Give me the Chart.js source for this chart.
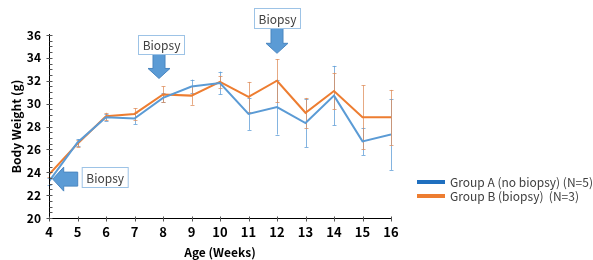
<!DOCTYPE html>
<html>
<head>
<meta charset="utf-8">
<script src="https://cdn.jsdelivr.net/npm/chart.js@4.4.1/dist/chart.umd.min.js"></script>
<style>
  html, body { margin: 0; padding: 0; background: #fff; }
  #wrap { width: 593px; height: 260px; }
</style>
</head>
<body>
<div id="wrap"><canvas id="weightChart"></canvas></div>
<script>
// weeks of age
var weeks = [4, 5, 6, 7, 8, 9, 10, 11, 12, 13, 14, 15, 16];
// mean body weight (g)
var groupA = [23.2, 26.6, 28.8, 28.7, 30.5, 31.5, 31.8, 29.1, 29.7, 28.3, 30.7, 26.7, 27.3];
var groupB = [23.8, 26.5, 28.9, 29.1, 30.8, 30.7, 31.9, 30.6, 32.0, 29.2, 31.1, 28.8, 28.8];
// error bars (+/-)
var errA = [0.3, 0.3, 0.3, 0.5, 0.4, 0.6, 1.0, 1.4, 2.4, 2.1, 2.6, 1.2, 3.1];
var errB = [0.2, 0.3, 0.3, 0.5, 0.7, 0.8, 0.5, 1.3, 1.9, 1.3, 1.6, 2.8, 2.4];
var yTicks = [20, 22, 24, 26, 28, 30, 32, 34, 36];
var labelA = "Group A (no biopsy) (N=5)";
var labelB = "Group B (biopsy)  (N=3)";

var FONT = "'Noto Sans CJK JP', 'Noto Sans', sans-serif";

function pts(vals) {
    return weeks.map(function (w, i) { return { x: w, y: vals[i] }; });
}

// error bars drawn under the lines
var errorBars = {
    id: 'errorBars',
    beforeDatasetsDraw: function (chart) {
        var ctx = chart.ctx, xs = chart.scales.x, ys = chart.scales.y;
        var sets = [[groupA, errA, 'rgba(91,155,213,0.75)'], [groupB, errB, 'rgba(222,140,90,0.75)']];
        ctx.save();
        ctx.lineWidth = 1;
        sets.forEach(function (s) {
            ctx.strokeStyle = s[2];
            weeks.forEach(function (w, i) {
                var x = Math.round(xs.getPixelForValue(w)) + 0.5;
                var y1 = ys.getPixelForValue(s[0][i] + s[1][i]);
                var y2 = ys.getPixelForValue(s[0][i] - s[1][i]);
                ctx.beginPath();
                ctx.moveTo(x, y1); ctx.lineTo(x, y2);
                ctx.moveTo(x - 2, Math.round(y1) + 0.5); ctx.lineTo(x + 2, Math.round(y1) + 0.5);
                ctx.moveTo(x - 2, Math.round(y2) + 0.5); ctx.lineTo(x + 2, Math.round(y2) + 0.5);
                ctx.stroke();
            });
        });
        ctx.restore();
    }
};

// axis lines, tick marks, minor ticks
var axisMarks = {
    id: 'axisMarks',
    afterDraw: function (chart) {
        var ctx = chart.ctx, xs = chart.scales.x, ys = chart.scales.y, a = chart.chartArea;
        ctx.save();
        ctx.strokeStyle = '#000';
        ctx.lineWidth = 1;
        var lx = Math.round(a.left) + 0.5, by = Math.round(a.bottom) + 0.5;
        ctx.beginPath();
        ctx.moveTo(lx, a.top - 1); ctx.lineTo(lx, by);
        ctx.lineTo(a.right, by);
        ctx.stroke();
        ctx.strokeStyle = '#555';
        ctx.beginPath();
        for (var v = 20; v <= 36; v += 0.5) {
            var y = Math.round(ys.getPixelForValue(v)) + 0.5;
            if (v % 2 === 0) { ctx.moveTo(lx - 3, y); ctx.lineTo(lx + 3, y); }
            else { ctx.moveTo(lx, y); ctx.lineTo(lx + 3, y); }
        }
        weeks.forEach(function (w) {
            var x = Math.round(xs.getPixelForValue(w)) + 0.5;
            ctx.moveTo(x, by - 2); ctx.lineTo(x, by + 3);
        });
        ctx.stroke();
        ctx.restore();
    }
};

// "Biopsy" callouts with block arrows
function drawBox(ctx, x, y, w, h) {
    ctx.fillStyle = '#fff';
    ctx.fillRect(x, y, w, h);
    ctx.strokeStyle = '#9dc3e6';
    ctx.lineWidth = 1;
    ctx.strokeRect(x + 0.5, y + 0.5, w, h);
    ctx.fillStyle = '#404040';
    ctx.font = '12px ' + FONT;
    ctx.textAlign = 'center';
    ctx.textBaseline = 'middle';
    ctx.fillText('Biopsy', x + w / 2 + 0.5, y + h / 2 + 1);
}
function arrowDown(ctx, cx, top, tip) {
    ctx.beginPath();
    ctx.moveTo(cx - 6, top); ctx.lineTo(cx + 6, top);
    ctx.lineTo(cx + 6, tip - 10); ctx.lineTo(cx + 11, tip - 10);
    ctx.lineTo(cx, tip); ctx.lineTo(cx - 11, tip - 10);
    ctx.lineTo(cx - 6, tip - 10); ctx.closePath();
    ctx.fillStyle = '#5b9bd5'; ctx.fill();
    ctx.strokeStyle = '#4a86c0'; ctx.lineWidth = 1; ctx.stroke();
}
function arrowLeft(ctx, cy, tip, end) {
    ctx.beginPath();
    ctx.moveTo(end, cy - 7); ctx.lineTo(end, cy + 7);
    ctx.lineTo(tip + 11, cy + 7); ctx.lineTo(tip + 11, cy + 12);
    ctx.lineTo(tip, cy); ctx.lineTo(tip + 11, cy - 12);
    ctx.lineTo(tip + 11, cy - 7); ctx.closePath();
    ctx.fillStyle = '#5b9bd5'; ctx.fill();
    ctx.strokeStyle = '#4a86c0'; ctx.lineWidth = 1; ctx.stroke();
}
var callouts = {
    id: 'callouts',
    afterDraw: function (chart) {
        var ctx = chart.ctx, xs = chart.scales.x, ys = chart.scales.y;
        ctx.save();
        var x8 = xs.getPixelForValue(7.86), x12 = xs.getPixelForValue(12);
        arrowDown(ctx, x8, 54, ys.getPixelForValue(32.2));
        drawBox(ctx, x8 - 21, 35, 46, 19);
        arrowDown(ctx, x12, 28, ys.getPixelForValue(34.4));
        drawBox(ctx, x12 - 23, 8, 46, 20);
        var x4 = xs.getPixelForValue(4.13);
        arrowLeft(ctx, ys.getPixelForValue(23.4), x4, x4 + 25);
        drawBox(ctx, x4 + 29, 167, 46, 20);
        ctx.restore();
    }
};

// legend at right
var sideLegend = {
    id: 'sideLegend',
    afterDraw: function (chart) {
        var ctx = chart.ctx;
        var items = [[labelA, '#1f6fbf', 182], [labelB, '#ed7d31', 196]];
        ctx.save();
        ctx.font = '12px ' + FONT;
        ctx.textAlign = 'left';
        ctx.textBaseline = 'middle';
        items.forEach(function (it) {
            ctx.fillStyle = it[1];
            ctx.fillRect(417, it[2] - 2, 28, 4);
            ctx.fillStyle = '#404040';
            ctx.fillText(it[0], 450, it[2]);
        });
        ctx.restore();
    }
};

var ctx = document.getElementById('weightChart');
var weightChart = new Chart(ctx, {
    type: 'line',
    data: {
        datasets: [{
            label: labelA,
            data: pts(groupA),
            borderColor: '#5b9bd5',
            borderWidth: 2,
            pointRadius: 0,
            tension: 0
        }, {
            label: labelB,
            data: pts(groupB),
            borderColor: '#ed7d31',
            borderWidth: 2,
            pointRadius: 0,
            tension: 0
        }]
    },
    options: {
        responsive: true,
        maintainAspectRatio: false,
        animation: false,
        layout: { padding: { top: 35, right: 202, left: 9, bottom: 0 } },
        plugins: {
            legend: { display: false },
            tooltip: { enabled: false }
        },
        scales: {
            x: {
                type: 'linear',
                min: 4,
                max: 16,
                grid: { display: false, drawTicks: false },
                border: { display: false },
                afterFit: function (s) { s.height = 42; },
                ticks: {
                    stepSize: 1,
                    padding: 6,
                    color: '#000',
                    font: { family: FONT, size: 13, weight: 'bold' }
                },
                title: {
                    display: true,
                    text: 'Age (Weeks)',
                    color: '#000',
                    padding: { top: 0, bottom: 0 },
                    font: { family: FONT, size: 12, weight: 'bold' }
                }
            },
            y: {
                min: 20,
                max: 36,
                afterBuildTicks: function (s) {
                    s.ticks = yTicks.map(function (v) { return { value: v }; });
                },
                afterFit: function (s) { s.width = 40; },
                grid: { display: false, drawTicks: false },
                border: { display: false },
                ticks: {
                    padding: 8,
                    color: '#000',
                    font: { family: FONT, size: 12, weight: 'bold' }
                },
                title: {
                    display: true,
                    text: 'Body Weight (g)',
                    color: '#000',
                    padding: { top: 0, bottom: 2 },
                    font: { family: FONT, size: 12, weight: 'bold' }
                }
            }
        }
    },
    plugins: [errorBars, axisMarks, callouts, sideLegend]
});
</script>
</body>
</html>
